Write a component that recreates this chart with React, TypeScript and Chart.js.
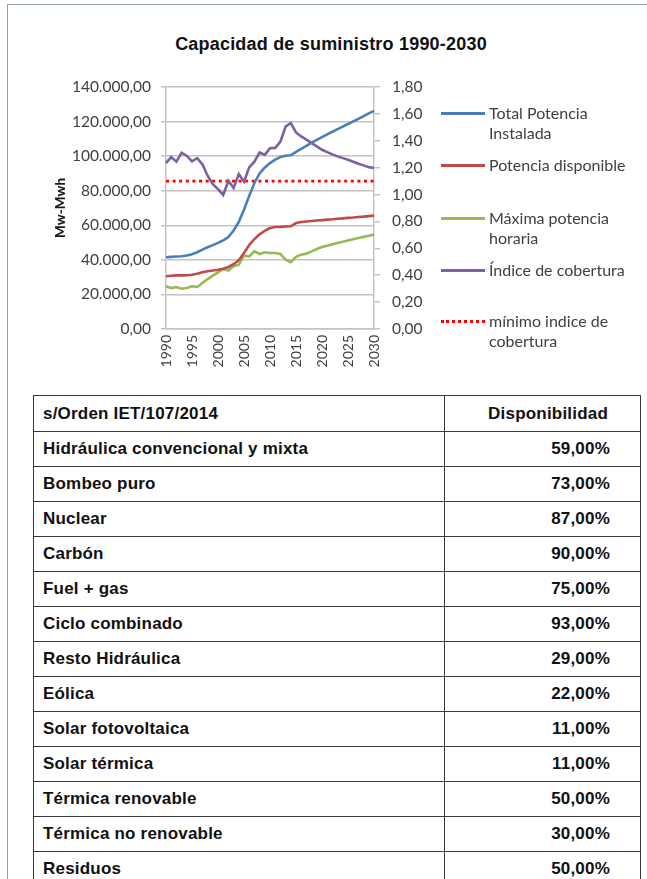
import React, { useEffect, useRef } from "react";
import { Chart, registerables } from "chart.js";

Chart.register(...registerables);

const years = [
  "1990", "1991", "1992", "1993", "1994", "1995", "1996", "1997", "1998", "1999",
  "2000", "2001", "2002", "2003", "2004", "2005", "2006", "2007", "2008", "2009",
  "2010", "2011", "2012", "2013", "2014", "2015", "2016", "2017", "2018", "2019",
  "2020", "2021", "2022", "2023", "2024", "2025", "2026", "2027", "2028", "2029", "2030",
];

const totalPotencia = [
  41500, 41700, 41900, 42100, 42500, 43300, 44400, 45900, 47300, 48500,
  49800, 51300, 53200, 57000, 62000, 69000, 77000, 84500, 90000, 93500,
  96000, 98000, 99500, 100200, 100500, 102500, 104200, 106000, 107800, 109400,
  111000, 112600, 114100, 115600, 117100, 118600, 120100, 121600, 123100, 124700, 126200,
];

const potenciaDisponible = [
  30500, 30800, 31000, 31000, 31100, 31400, 32000, 32800, 33400, 33800,
  34300, 34900, 35900, 37500, 39800, 44000, 48600, 52000, 54800, 56800,
  58400, 59000, 59100, 59300, 59400, 61300, 61900, 62200, 62500, 62800,
  63000, 63300, 63500, 63800, 64000, 64300, 64500, 64800, 65000, 65300, 65600,
];

const maximaPotencia = [
  24700, 23700, 24300, 23300, 23700, 24700, 24300, 26600, 28900, 30900,
  32800, 34700, 33800, 36300, 37200, 42400, 42000, 44900, 43400, 44400,
  44000, 44000, 43400, 40100, 38600, 41700, 43000, 43600, 44900, 46300,
  47400, 48200, 49000, 49800, 50500, 51200, 51900, 52600, 53300, 53900, 54600,
];

const indiceCobertura = [
  1.234, 1.278, 1.245, 1.311, 1.287, 1.247, 1.27, 1.225, 1.14, 1.078,
  1.041, 0.997, 1.103, 1.048, 1.152, 1.096, 1.202, 1.245, 1.313, 1.295,
  1.344, 1.347, 1.394, 1.505, 1.532, 1.462, 1.432, 1.408, 1.383, 1.358,
  1.333, 1.316, 1.299, 1.284, 1.271, 1.259, 1.244, 1.229, 1.217, 1.204, 1.197,
];

const minimoIndice = [
  1.1, 1.1, 1.1, 1.1, 1.1, 1.1, 1.1, 1.1, 1.1, 1.1,
  1.1, 1.1, 1.1, 1.1, 1.1, 1.1, 1.1, 1.1, 1.1, 1.1,
  1.1, 1.1, 1.1, 1.1, 1.1, 1.1, 1.1, 1.1, 1.1, 1.1,
  1.1, 1.1, 1.1, 1.1, 1.1, 1.1, 1.1, 1.1, 1.1, 1.1, 1.1,
];

const seriesNames = [
  ["Total Potencia", "Instalada"],
  ["Potencia disponible"],
  ["Máxima potencia", "horaria"],
  ["Índice de cobertura"],
  ["mínimo indice de", "cobertura"],
];

const tableHeader = ["s/Orden IET/107/2014", "Disponibilidad"];
const tecnologias = [
  "Hidráulica convencional y mixta",
  "Bombeo puro",
  "Nuclear",
  "Carbón",
  "Fuel + gas",
  "Ciclo combinado",
  "Resto Hidráulica",
  "Eólica",
  "Solar fotovoltaica",
  "Solar térmica",
  "Térmica renovable",
  "Térmica no renovable",
  "Residuos",
];
const disponibilidad = [
  "59,00%", "73,00%", "87,00%", "90,00%", "75,00%", "93,00%", "29,00%",
  "22,00%", "11,00%", "11,00%", "50,00%", "30,00%", "50,00%",
];

const COLORS = ["#4a7ebb", "#be4b48", "#98b954", "#7d60a0", "#ff0000"];

function fmtLeft(v: number): string {
  const n = Math.round(v);
  const s = String(n).replace(/\B(?=(\d{3})+(?!\d))/g, ".");
  return s + ",00";
}
function fmtRight(v: number): string {
  return v.toFixed(2).replace(".", ",");
}

const TICK_FONT = { family: "Lato", size: 15.5 };
const GRID = "#c3c3c3";

function ChartBox() {
  const ref = useRef<HTMLCanvasElement | null>(null);
  useEffect(() => {
    if (!ref.current) return;
    const chart = new Chart(ref.current, {
      type: "line",
      data: {
        labels: years,
        datasets: [
          { label: seriesNames[0].join(" "), data: totalPotencia, borderColor: COLORS[0], yAxisID: "y" },
          { label: seriesNames[1].join(" "), data: potenciaDisponible, borderColor: COLORS[1], yAxisID: "y" },
          { label: seriesNames[2].join(" "), data: maximaPotencia, borderColor: COLORS[2], yAxisID: "y" },
          { label: seriesNames[3].join(" "), data: indiceCobertura, borderColor: COLORS[3], yAxisID: "y1" },
          {
            label: seriesNames[4].join(" "),
            data: minimoIndice,
            borderColor: COLORS[4],
            yAxisID: "y1",
            borderDash: [3, 3.6],
            borderWidth: 2.6,
          },
        ].map((d: any) => ({
          borderWidth: 2.6,
          pointRadius: 0,
          tension: 0,
          fill: false,
          ...d,
        })),
      },
      options: {
        responsive: false,
        animation: false,
        events: [],
        layout: { padding: { left: 49, right: 211, top: 87, bottom: 0 } },
        plugins: {
          legend: { display: false },
          title: { display: false },
          tooltip: { enabled: false },
        },
        scales: {
          x: {
            type: "category",
            offset: false,
            grid: { display: false, drawTicks: false },
            border: { display: true, color: GRID, width: 1.5 },
            ticks: {
              autoSkip: false,
              maxRotation: 90,
              minRotation: 90,
              padding: 6,
              font: { family: "Lato", size: 14 },
              color: "#404040",
              callback: function (this: any, _v: any, i: number) {
                const y = years[i];
                return Number(y) % 5 === 0 ? y : "";
              },
            },
            afterFit: (s: any) => {
              s.height = 51;
            },
          },
          y: {
            position: "left",
            min: 0,
            max: 140000,
            ticks: { stepSize: 20000, callback: (v: any) => fmtLeft(Number(v)), font: TICK_FONT, color: "#404040", padding: 10 },
            grid: { color: GRID, lineWidth: 1.5, tickLength: 5 },
            border: { color: GRID, width: 1.5 },
            title: {
              display: true,
              text: "Mw-Mwh",
              font: { family: "Lato", size: 13.5, weight: 900 },
              color: "#1a1a1a",
            },
            afterFit: (s: any) => {
              s.width = 117;
            },
          },
          y1: {
            position: "right",
            min: 0,
            max: 1.8,
            ticks: { stepSize: 0.2, callback: (v: any) => fmtRight(Number(v)), font: TICK_FONT, color: "#404040", padding: 12 },
            grid: { drawOnChartArea: false, color: GRID, lineWidth: 1.5, tickLength: 6 },
            border: { color: GRID, width: 1.5 },
            afterFit: (s: any) => {
              s.width = 62;
            },
          },
        },
      } as any,
    });
    return () => chart.destroy();
  }, []);
  return (
    <canvas
      ref={ref}
      width={647}
      height={380}
      style={{ position: "absolute", left: 0, top: 0, width: 647, height: 380 }}
    />
  );
}

function Legend() {
  const tops = [113, 165, 218, 270, 321];
  return (
    <>
      {seriesNames.map((lines, i) => (
        <div key={i}>
          <div
            style={{
              position: "absolute",
              left: 441,
              top: tops[i] - 1.5,
              width: 44,
              height: 0,
              borderTop: i === 4 ? `3px dotted ${COLORS[4]}` : `3px solid ${COLORS[i]}`,
            }}
          />
          {lines.map((t, j) => (
            <div
              key={j}
              style={{
                position: "absolute",
                left: 489,
                top: tops[i] + j * 20 - 10,
                height: 20,
                lineHeight: "20px",
                font: "16px Lato",
                color: "#404040",
                whiteSpace: "nowrap",
              }}
            >
              {t}
            </div>
          ))}
        </div>
      ))}
    </>
  );
}

export default function App() {
  const cell: React.CSSProperties = {
    border: "1px solid #3a3a3a",
    padding: "0 9px",
    font: "bold 17px 'Liberation Sans', Arial, sans-serif",
    letterSpacing: "0.2px",
    color: "#111",
    height: 35,
    boxSizing: "border-box",
  };
  return (
    <div style={{ position: "absolute", left: 0, top: 0, width: 647, height: 879, overflow: "hidden", background: "#fff" }}>
      <div
        style={{
          position: "absolute",
          left: 7,
          top: 4,
          width: 700,
          height: 900,
          borderLeft: "1px solid #8ea2b3",
          borderTop: "1px solid #8ea2b3",
        }}
      />
      <div
        style={{
          position: "absolute",
          left: 0,
          width: 662,
          top: 33,
          textAlign: "center",
          font: "bold 18px 'Liberation Sans', Arial, sans-serif",
          letterSpacing: "0.2px",
          lineHeight: "22px",
          color: "#111",
        }}
      >
        Capacidad de suministro 1990-2030
      </div>
      <ChartBox />
      <Legend />
      <table
        style={{
          position: "absolute",
          left: 33,
          top: 395,
          width: 607,
          borderCollapse: "collapse",
          tableLayout: "fixed",
        }}
      >
        <colgroup>
          <col style={{ width: 411 }} />
          <col style={{ width: 196 }} />
        </colgroup>
        <tbody>
          <tr style={{ height: 36 }}>
            <td style={{ ...cell, height: 36 }}>{tableHeader[0]}</td>
            <td style={{ ...cell, height: 36, textAlign: "right", paddingRight: 32 }}>{tableHeader[1]}</td>
          </tr>
          {tecnologias.map((t, i) => (
            <tr key={t} style={{ height: 35 }}>
              <td style={{ ...cell }}>{t}</td>
              <td style={{ ...cell, textAlign: "right", paddingRight: 30 }}>{disponibilidad[i]}</td>
            </tr>
          ))}
        </tbody>
      </table>
    </div>
  );
}
